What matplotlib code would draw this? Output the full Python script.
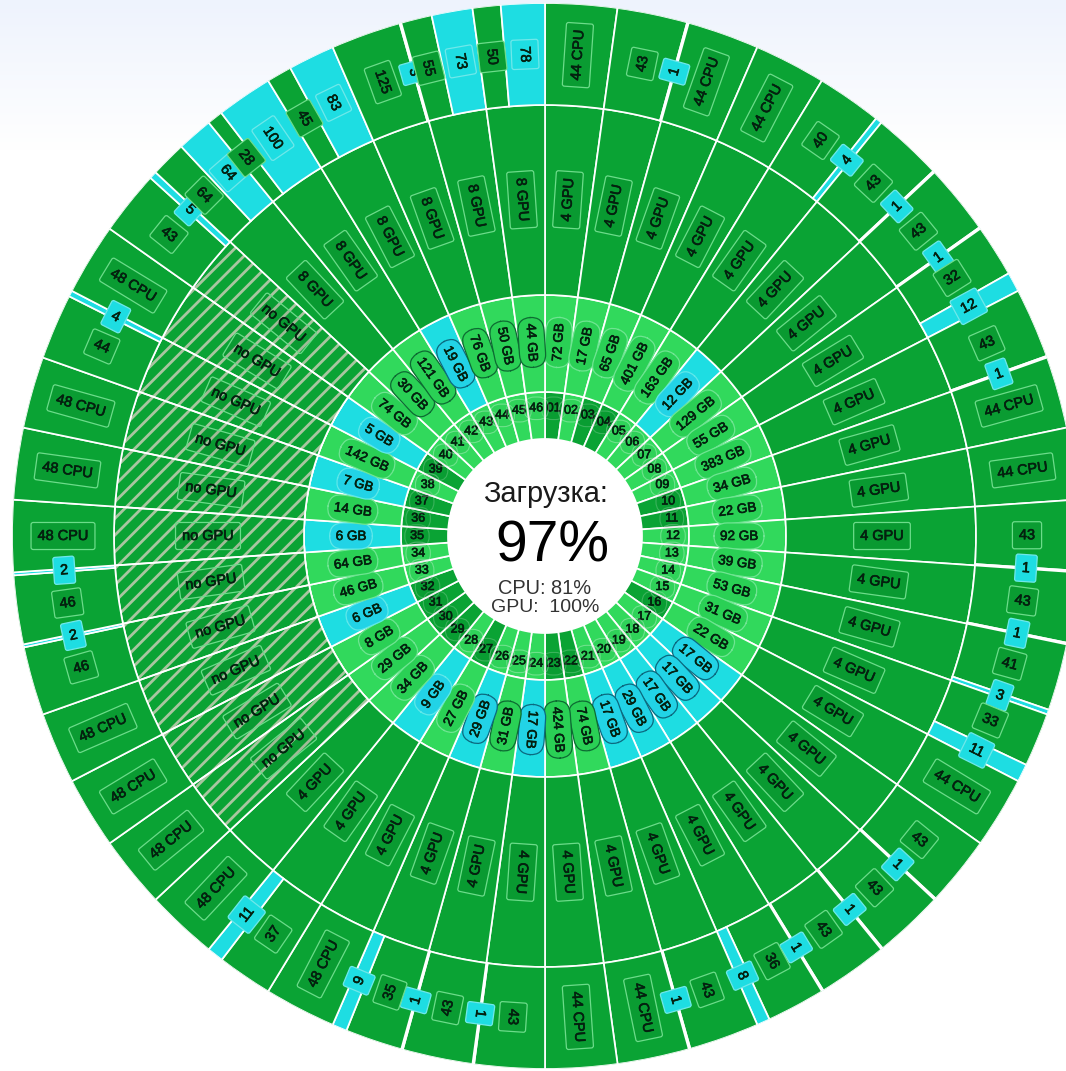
# coding: utf-8
import numpy as np
import matplotlib
matplotlib.use('agg')
import matplotlib.pyplot as plt
import matplotlib.patheffects as pe

plt.rcParams['font.family'] = ['Liberation Sans', 'DejaVu Sans']
plt.rcParams['hatch.linewidth'] = 2.0

# узлы по часовой стрелке, начиная с 01
node_busy = [1, 3, 4, 10, 11, 16, 22, 23, 27, 29, 30, 31, 32, 35, 36, 37, 39]

mem_gb = [72, 17, 65, 401, 163, 12, 129, 55, 383, 34, 22, 92, 39, 53, 31, 22,
          17, 17, 17, 29, 17, 74, 424, 17, 31, 29, 27, 9, 34, 29, 8, 6,
          46, 64, 6, 14, 7, 142, 5, 74, 30, 121, 19, 76, 50, 44]
mem_low = [6, 17, 18, 19, 20, 21, 24, 26, 28, 32, 35, 37, 39, 43]
mem_dark_outline = [17, 18, 19, 20, 21, 22, 23, 24, 25, 26, 41, 42, 43, 44, 45, 46]

gpu_used = [4] * 29 + [0] * 11 + [8] * 6

cpu_used = [44, 43, 44, 44, 40, 43, 43, 32, 43, 44, 44, 43, 43, 41, 33, 44,
            43, 43, 43, 36, 43, 44, 44, 43, 43, 35, 48, 37, 48, 48, 48, 48,
            46, 46, 48, 48, 48, 44, 48, 43, 64, 28, 45, 125, 55, 50]
cpu_free = [0, 1, 0, 0, 4, 1, 1, 12, 1, 0, 0, 1, 1, 3, 11, 0,
            1, 1, 1, 8, 1, 0, 0, 1, 1, 9, 0, 11, 0, 0, 0, 0,
            2, 2, 0, 0, 0, 4, 0, 5, 64, 100, 83, 3, 73, 78]

title_text = 'Загрузка:'
total_text = '97%'
cpu_text = 'CPU: 81%'
gpu_text = 'GPU:  100%'

DARK = '#0aa334'
LIGHT = '#31d95c'
CYAN = '#1edde2'
HATCH = '#a9c6a0'
TEXT = '#04200f'
LW = 1.25

W, H = 1066, 1071
CX, CY, R = 545, 536, 533
R_NODE = (97, 144)
R_MEM = (144, 241)
R_GPU = (241, 431)
R_CPU = (431, 533)

n = len(mem_gb)
step = 2 * np.pi / n
heavy = [pe.withStroke(linewidth=0.45, foreground=TEXT)]


def px(size):
    return size * 0.72


def label_rot(deg):
    if deg < 188:
        return 90 - deg
    return 270 - deg


def box_text(ax, theta, r, s, size, face, edge, round_size=0.15, pad=0.45):
    deg = np.degrees(theta)
    ax.text(theta, r, s, fontsize=px(size), color=TEXT, path_effects=heavy,
            rotation=label_rot(deg), rotation_mode='anchor', ha='center', va='center',
            bbox=dict(boxstyle='round,pad=%s,rounding_size=%s' % (pad, round_size),
                      facecolor=face, edgecolor=edge, linewidth=0.9))


fig = plt.figure(figsize=(W / 100, H / 100), dpi=100, facecolor='white')

# фон страницы: голубоватый сверху
bg = fig.add_axes([0, 0, 1, 1], zorder=-1)
shade = np.clip(np.arange(H) / 150.0, 0, 1)
grad = np.zeros((H, 1, 3))
grad[:, 0, 0] = 238 + (255 - 238) * shade
grad[:, 0, 1] = 243 + (255 - 243) * shade
grad[:, 0, 2] = 253 + (255 - 253) * shade
bg.imshow(grad / 255.0, aspect='auto')
bg.axis('off')

ax = fig.add_axes([(CX - R) / W, (H - CY - R) / H, 2 * R / W, 2 * R / H], projection='polar')
ax.set_theta_zero_location('N')
ax.set_theta_direction(-1)
ax.set_ylim(0, R)
ax.axis('off')

centers = (np.arange(n) + 0.5) * step

# кольцо узлов
node_colors = [DARK if i + 1 in node_busy else LIGHT for i in range(n)]
ax.bar(centers, R_NODE[1] - R_NODE[0], width=step, bottom=R_NODE[0], color=node_colors,
       edgecolor='white', linewidth=LW)

# кольцо памяти
mem_colors = [CYAN if i + 1 in mem_low else LIGHT for i in range(n)]
ax.bar(centers, R_MEM[1] - R_MEM[0], width=step, bottom=R_MEM[0], color=mem_colors,
       edgecolor='white', linewidth=LW)

# кольцо GPU
ax.bar(centers, R_GPU[1] - R_GPU[0], width=step, bottom=R_GPU[0], color=DARK,
       edgecolor='white', linewidth=LW)
no_gpu = [i for i in range(n) if gpu_used[i] == 0]
ax.bar(centers[no_gpu], R_GPU[1] - R_GPU[0], width=step, bottom=R_GPU[0], color=DARK,
       edgecolor=HATCH, linewidth=0, hatch='//')
ax.bar(centers[no_gpu], R_GPU[1] - R_GPU[0], width=step, bottom=R_GPU[0], color='none',
       edgecolor='white', linewidth=LW)

# кольцо CPU: занято, потом свободно
cpu_labels = []
for i in range(n):
    start = i * step
    total = cpu_used[i] + cpu_free[i]
    used_w = step * cpu_used[i] / total
    free_w = step - used_w
    ax.bar(start + used_w / 2, R_CPU[1] - R_CPU[0], width=used_w, bottom=R_CPU[0], color=DARK,
           edgecolor='white', linewidth=LW)
    if cpu_free[i] > 0:
        ax.bar(start + used_w + free_w / 2, R_CPU[1] - R_CPU[0], width=free_w, bottom=R_CPU[0],
               color=CYAN, edgecolor='white', linewidth=LW)
        cpu_labels.append((start + used_w / 2, str(cpu_used[i]), False))
        cpu_labels.append((start + used_w + free_w / 2, str(cpu_free[i]), True))
    else:
        cpu_labels.append((start + used_w / 2, '%d CPU' % cpu_used[i], False))

# подписи
for i in range(n):
    busy = i + 1 in node_busy
    ax.text(centers[i], 128, '%02d' % (i + 1), fontsize=px(12.5), color=TEXT, ha='center', va='center',
            path_effects=heavy,
            bbox=dict(boxstyle='round,pad=0.42,rounding_size=0.85',
                      facecolor=(0, 0, 0, 0.03), edgecolor=(1, 1, 1, 0.3) if not busy else (1, 1, 1, 0.2),
                      linewidth=0.8))

for i in range(n):
    low = i + 1 in mem_low
    dark = i + 1 in mem_dark_outline
    if low:
        face = '#22d3e6'
        edge = '#0b6a80' if dark else '#5fe8ea'
    else:
        face = '#2ad055'
        edge = '#0d6b32' if dark else '#6fe592'
    box_text(ax, centers[i], 194, '%d GB' % mem_gb[i], 13.5, face, edge, round_size=1.0)

for i in range(n):
    if gpu_used[i] == 0:
        s = 'no GPU'
    else:
        s = '%d GPU' % gpu_used[i]
    box_text(ax, centers[i], 337, s, 14.5, (0, 0, 0, 0.05), '#6cdc8a')

for theta, s, free in cpu_labels:
    if free:
        box_text(ax, theta, 482, s, 14.5, CYAN, '#6fe8ea')
    else:
        box_text(ax, theta, 482, s, 14.5, '#0a9c32', '#6cdc8a')

# центр
fig.text(CX / W, 1 - 494 / H, title_text, fontsize=px(29), color='#1a1a1a', ha='center', va='center')
fig.text((CX + 7) / W, 1 - 547 / H, total_text, fontsize=px(57), color='black', ha='center', va='center')
fig.text(CX / W, 1 - 588 / H, cpu_text, fontsize=px(20), color='#333333', ha='center', va='center')
fig.text(CX / W, 1 - 607 / H, gpu_text, fontsize=px(19.5), color='#333333', ha='center', va='center')

plt.savefig('out.png', dpi=100)
plt.close()
